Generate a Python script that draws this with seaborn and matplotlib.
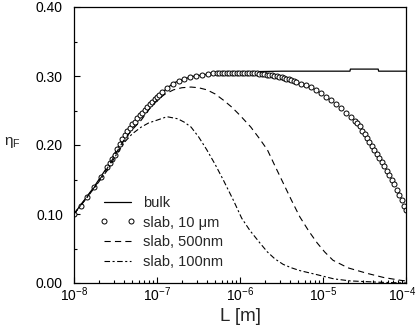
import numpy as np
import pandas as pd
import matplotlib
matplotlib.use("Agg")
import matplotlib.pyplot as plt
import matplotlib.transforms as mtransforms
import seaborn as sns
from matplotlib.ticker import FixedLocator, FormatStrFormatter, LogLocator, LogFormatterMathtext

# ---- data (log10 of L in m, efficiency eta_F) ----
bulk_logL = [-8.00, -7.76, -7.60, -7.40, -7.19, -7.00, -6.80, -6.59, -6.31, -6.00,
             -5.50, -5.00, -4.675, -4.67, -4.335, -4.33, -4.00]
bulk_eta = [0.100, 0.139, 0.168, 0.212, 0.246, 0.270, 0.290, 0.299, 0.304, 0.306,
            0.307, 0.307, 0.307, 0.310, 0.310, 0.307, 0.307]

slab10_logL = [-8.00, -7.92, -7.84, -7.76, -7.68,
               -7.60, -7.57, -7.54, -7.51, -7.48, -7.45, -7.42, -7.39, -7.36, -7.33, -7.30,
               -7.27, -7.24, -7.21, -7.18, -7.15, -7.12, -7.09, -7.06, -7.03, -7.00, -6.97, -6.94,
               -6.88, -6.81, -6.74, -6.67, -6.60, -6.53, -6.46, -6.39, -6.32,
               -6.28, -6.25, -6.22, -6.19, -6.16, -6.13, -6.10, -6.07, -6.04, -6.01, -5.98,
               -5.95, -5.92, -5.89, -5.86, -5.83, -5.80, -5.77, -5.74, -5.71, -5.68, -5.65,
               -5.62, -5.59, -5.56, -5.53, -5.50, -5.47, -5.44, -5.41, -5.38, -5.35, -5.32,
               -5.26, -5.20, -5.14, -5.08, -5.02, -4.96, -4.90, -4.84, -4.78, -4.72, -4.66,
               -4.62, -4.59, -4.56, -4.53, -4.50, -4.47, -4.44, -4.41, -4.38, -4.35, -4.32,
               -4.29, -4.26, -4.23, -4.20, -4.17, -4.14, -4.11, -4.08, -4.05, -4.02, -4.00]
slab10_eta = [0.100, 0.112, 0.125, 0.139, 0.153,
              0.168, 0.174, 0.180, 0.186, 0.194, 0.201, 0.208, 0.214, 0.220, 0.224, 0.230,
              0.234, 0.239, 0.243, 0.247, 0.251, 0.255, 0.259, 0.263, 0.267, 0.270, 0.273, 0.277,
              0.283, 0.289, 0.293, 0.296, 0.299, 0.300, 0.302, 0.303, 0.304,
              0.304, 0.305, 0.305, 0.305, 0.305, 0.305, 0.305, 0.305, 0.305, 0.305, 0.305,
              0.305, 0.305, 0.304, 0.304, 0.304, 0.304, 0.303, 0.303, 0.303, 0.302, 0.302,
              0.301, 0.300, 0.300, 0.299, 0.298, 0.297, 0.296, 0.295, 0.294, 0.293, 0.292,
              0.289, 0.287, 0.284, 0.280, 0.275, 0.270, 0.265, 0.259, 0.253, 0.246, 0.240,
              0.235, 0.232, 0.227, 0.221, 0.216, 0.210, 0.204, 0.199, 0.193, 0.187, 0.181,
              0.175, 0.169, 0.163, 0.156, 0.150, 0.143, 0.135, 0.127, 0.120, 0.112, 0.106]

slab500_logL = [-8.00, -7.88, -7.76, -7.68, -7.60, -7.50, -7.40, -7.30, -7.19, -7.10,
                -7.00, -6.90, -6.80, -6.70, -6.59, -6.50, -6.40, -6.30, -6.20, -6.10,
                -6.00, -5.87, -5.77, -5.67, -5.58, -5.48, -5.38, -5.28, -5.17, -5.07,
                -4.98, -4.88, -4.70, -4.47, -4.27, -4.07, -4.00]
slab500_eta = [0.100, 0.119, 0.138, 0.152, 0.166, 0.187, 0.207, 0.222, 0.236, 0.251,
               0.265, 0.274, 0.280, 0.283, 0.284, 0.283, 0.280, 0.274, 0.265, 0.255,
               0.243, 0.226, 0.210, 0.193, 0.170, 0.145, 0.120, 0.096, 0.075, 0.058,
               0.045, 0.033, 0.022, 0.014, 0.008, 0.004, 0.003]

slab100_logL = [-8.00, -7.88, -7.76, -7.68, -7.60, -7.50, -7.40, -7.30, -7.19, -7.10,
                -7.00, -6.88, -6.75, -6.67, -6.59, -6.50, -6.40, -6.30, -6.20, -6.08,
                -5.98, -5.88, -5.76, -5.67, -5.58, -5.48, -5.38, -5.28, -5.07, -4.87,
                -4.67, -4.30, -4.00]
slab100_eta = [0.100, 0.118, 0.137, 0.150, 0.163, 0.184, 0.203, 0.216, 0.226, 0.232,
               0.236, 0.241, 0.238, 0.233, 0.226, 0.212, 0.193, 0.172, 0.149, 0.120,
               0.094, 0.076, 0.058, 0.045, 0.035, 0.027, 0.022, 0.018, 0.012, 0.006,
               0.003, 0.001, 0.000]

labels = ["bulk", "slab, 10 \u03bcm", "slab, 500nm", "slab, 100nm"]
y_ticks = [0.0, 0.1, 0.2, 0.3, 0.4]

# ---- style ----
sns.set_theme(style="ticks")
plt.rcParams["font.family"] = ["Liberation Sans", "DejaVu Sans"]
plt.rcParams["mathtext.fontset"] = "custom"
plt.rcParams["mathtext.rm"] = "Liberation Sans"
plt.rcParams["mathtext.it"] = "Liberation Sans"
plt.rcParams["mathtext.default"] = "regular"
plt.rcParams["lines.scale_dashes"] = False

fig = plt.figure(figsize=(4.18, 3.36), dpi=100)
ax = fig.add_axes([74 / 418, 1 - 283 / 336, 332 / 418, 276 / 336])

def L(v):
    return np.power(10.0, np.array(v))

sns.lineplot(x=L(bulk_logL), y=bulk_eta, ax=ax, color="black", lw=0.9,
             sort=False, estimator=None, label=labels[0])
sns.lineplot(x=L(slab10_logL), y=slab10_eta, ax=ax, color="black", linestyle="",
             marker="o", markersize=3.6, markerfacecolor="white", markeredgecolor="black",
             markeredgewidth=0.7, sort=False, estimator=None, label=labels[1])
sns.lineplot(x=L(slab500_logL), y=slab500_eta, ax=ax, color="black", lw=0.8,
             dashes=(4.5, 3.0), sort=False, estimator=None, label=labels[2])
sns.lineplot(x=L(slab100_logL), y=slab100_eta, ax=ax, color="black", lw=0.8,
             dashes=(4.0, 1.8, 1.5, 1.8), sort=False, estimator=None, label=labels[3])

ax.set_xscale("log")
ax.set_xlim(1e-8, 1e-4)
ax.set_ylim(0, 0.4)
ax.yaxis.set_major_locator(FixedLocator(y_ticks))
ax.yaxis.set_minor_locator(FixedLocator([0.05, 0.15, 0.25, 0.35]))
ax.yaxis.set_major_formatter(FormatStrFormatter("%.2f"))
ax.xaxis.set_major_locator(FixedLocator([1e-8, 1e-7, 1e-6, 1e-5, 1e-4]))
ax.xaxis.set_minor_locator(LogLocator(base=10, subs=np.arange(2, 10), numticks=10))
ax.xaxis.set_major_formatter(LogFormatterMathtext())

ax.tick_params(axis="both", which="both", direction="in", colors="black", width=0.8,
               top=False, right=False, labelsize=10)
ax.tick_params(axis="y", which="major", length=4, pad=8)
ax.tick_params(axis="y", which="minor", length=2.5)
ax.tick_params(axis="x", which="major", length=4, pad=1.5)
ax.tick_params(axis="x", which="minor", length=2.5)
for s in ax.spines.values():
    s.set_visible(True)
    s.set_linewidth(0.9)
    s.set_color("black")

ax.set_xlabel("L [m]", fontsize=13.5, labelpad=3)
ax.set_ylabel("")
fig.text(4 / 418, 1 - 142 / 336, r"$\eta_F$", fontsize=11, ha="left", va="center")

leg = ax.legend(loc="upper left", bbox_to_anchor=((100 - 74) / 332, (283 - 196) / 276),
                frameon=False, fontsize=10.5, handlelength=2.4, handletextpad=0.55,
                labelspacing=0.38, borderpad=0, borderaxespad=0, numpoints=2)

fig.canvas.draw()
shift = mtransforms.ScaledTranslation(-3.5 / 100, 0, fig.dpi_scale_trans)
for t in ax.xaxis.get_major_ticks():
    if np.isclose(t.get_loc(), 1e-4):
        t.label1.set_transform(t.label1.get_transform() + shift)

fig.savefig("out.png", dpi=100)
